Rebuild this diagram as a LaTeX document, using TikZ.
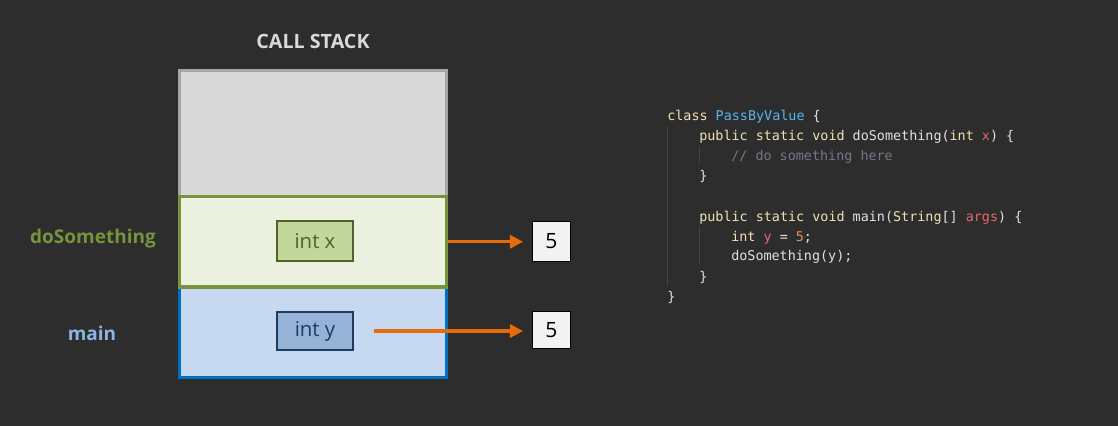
\documentclass[tikz,border=0pt]{standalone}
\usepackage{fontspec}
\setmainfont{Open Sans}
\setmonofont{DejaVu Sans Mono}
\usepackage{tikz}
\usetikzlibrary{positioning,arrows.meta}

\definecolor{bgcol}{HTML}{2D2D2D}
\definecolor{grayfill}{HTML}{D9D9D9}
\definecolor{graybd}{HTML}{A6A6A6}
\definecolor{greenfill}{HTML}{EBF1DE}
\definecolor{greenbd}{HTML}{77933C}
\definecolor{bluefill}{HTML}{C6D9F1}
\definecolor{bluebd}{HTML}{0070C0}
\definecolor{xfill}{HTML}{C3D69B}
\definecolor{xbd}{HTML}{4F6228}
\definecolor{yfill}{HTML}{95B3D7}
\definecolor{ybd}{HTML}{1F3A5F}
\definecolor{valfill}{HTML}{F2F2F2}
\definecolor{ptrcol}{HTML}{E46C0A}
\definecolor{mainlbl}{HTML}{8DB3E2}
\definecolor{titlecol}{HTML}{D9D9D9}
\definecolor{codetxt}{HTML}{E2E2E2}
\definecolor{kwcol}{HTML}{F0E2B0}
\definecolor{clscol}{HTML}{56B6F2}
\definecolor{varcol}{HTML}{E8676F}
\definecolor{numcol}{HTML}{E0935A}
\definecolor{cmtcol}{HTML}{717985}
\definecolor{guidecol}{HTML}{474747}

\newcommand{\codekw}[1]{\textcolor{kwcol}{#1}}
\newcommand{\codecls}[1]{\textcolor{clscol}{#1}}
\newcommand{\codevar}[1]{\textcolor{varcol}{#1}}
\newcommand{\codenum}[1]{\textcolor{numcol}{#1}}
\newcommand{\codecmt}[1]{\textcolor{cmtcol}{#1}}

\begin{document}
\begin{tikzpicture}[x=0.025cm,y=-0.025cm,
		frame/.style={draw,line width=2.3pt,minimum width=6.675cm,inner sep=0pt},
		var/.style={draw,line width=1.5pt,minimum width=1.9cm,inner sep=0pt,font=\fontsize{14.5}{16}\selectfont},
		val/.style={draw=black,fill=valfill,line width=0.7pt,minimum width=0.95cm,inner sep=0pt,font=\fontsize{15}{17}\selectfont},
		ptr/.style={draw=ptrcol,line width=2.3pt,-{Triangle[length=0.33cm,width=0.33cm]},shorten >=0.225cm},
		frametag/.style={font=\bfseries\fontsize{13.5}{15}\selectfont},
		code/.style={anchor=base west,inner sep=0pt,text=codetxt,font=\ttfamily\fontsize{9.54}{12}\selectfont},
		guide/.style={draw=guidecol,line width=0.7pt}]
		%Background
		\fill[bgcol] (0,0) rectangle (1118,426);
		\useasboundingbox (0,0) rectangle (1118,426);
		%Stack
		\node[frame,draw=graybd,fill=grayfill,minimum height=3.15cm] (free) at (313,133.5) {};
		\node[frame,draw=bluebd,fill=bluefill,minimum height=2.2625cm] (mainframe) at (313,332.25) {};
		\node[frame,draw=greenbd,fill=greenfill,minimum height=2.2625cm] (dsframe) at (313,241.75) {};
		\node[font=\bfseries\fontsize{14}{16}\selectfont,text=titlecol] (stacktitle) at (313,41) {CALL STACK};
		\node[frametag,text=greenbd] (dslabel) at (93,239) {doSomething};
		\node[frametag,text=mainlbl] (mainlabel) at (92,333) {main};
		%Variables
		\node[var,fill=xfill,draw=xbd,text=xbd,minimum height=1cm] (xvar) at (315,241) {int x};
		\node[var,fill=yfill,draw=ybd,text=ybd,minimum height=0.95cm] (yvar) at (315,331) {int y};
		\node[val,minimum height=1cm] (xval) at (551.5,241.5) {5};
		\node[val,minimum height=0.925cm] (yval) at (551.5,330) {5};
		\coordinate[right=0.5cm of yvar.east] (ystart);
		%Pointers
		\draw[ptr] (dsframe.east) -- (xval.west |- dsframe.east);
		\draw[ptr] (ystart) -- (yval.west |- ystart);
		%Code
		\node[code] (c1) at (667,121) {\codekw{class} \codecls{PassByValue} \{};
		\node[code] (c2) at (699,141) {\codekw{public static void} doSomething(\codekw{int} \codevar{x}) \{};
		\node[code] (c3) at (731,161) {\codecmt{// do something here}};
		\node[code] (c4) at (699,181) {\}};
		\node[code] (c6) at (699,221) {\codekw{public static void} main(\codekw{String}[] \codevar{args}) \{};
		\node[code] (c7) at (731,241) {\codekw{int} \codevar{y} = \codenum{5};};
		\node[code] (c8) at (731,261) {doSomething(y);};
		\node[code] (c9) at (699,281) {\}};
		\node[code] (c10) at (667,301) {\}};
		%Guides
		\draw[guide] (667,127) -- (667,285);
		\draw[guide] (699,147) -- (699,163);
		\draw[guide] (699,227) -- (699,263);
\end{tikzpicture}
\end{document}
